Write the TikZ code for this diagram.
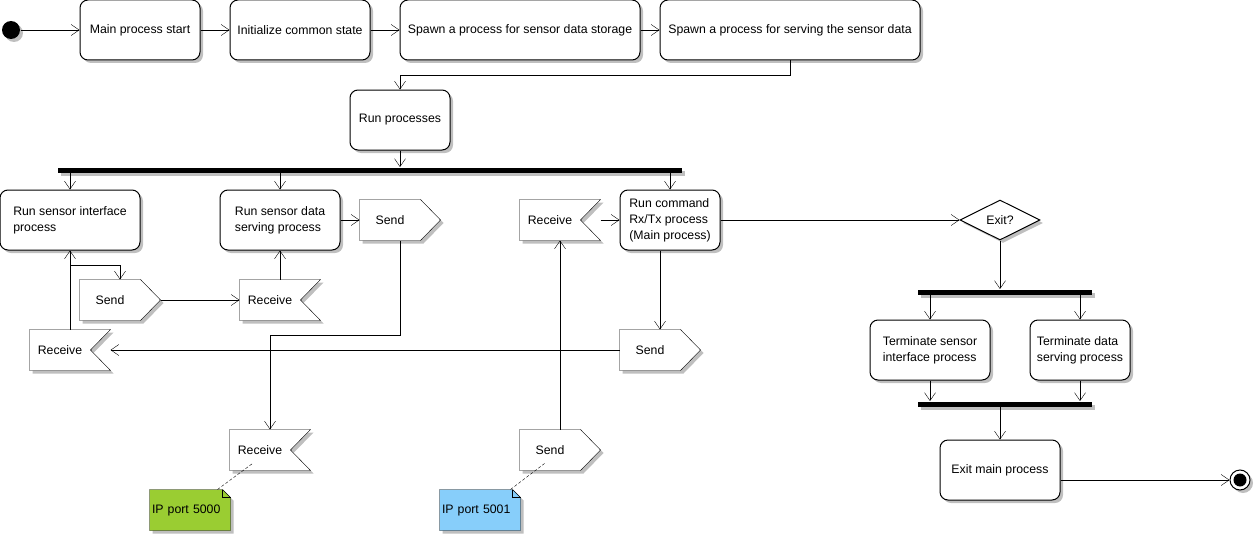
\documentclass[tikz,border=0pt]{standalone}
\usepackage{fontspec}
\setmainfont{Liberation Sans}
\usetikzlibrary{arrows.meta,shadows,shapes.geometric,calc}
\pgfdeclarelayer{background}
\pgfsetlayers{background,main}
\definecolor{notegreen}{HTML}{9ACD32}
\definecolor{noteblue}{HTML}{87CEFA}
\newcommand{\drawsendshape}[1]{\draw[sigline] (#1.north west) -- ([xshift=-20pt]#1.north east) -- (#1.east) -- ([xshift=-20pt]#1.south east) -- (#1.south west) -- cycle;}
\newcommand{\drawrecvshape}[1]{\draw[sigline] (#1.north west) -- (#1.north east) -- ([xshift=-20pt]#1.east) -- (#1.south east) -- (#1.south west) -- cycle;}
\newcommand{\drawnoteshape}[2]{\draw[fill=#2, shad] (#1.north west) -- ([xshift=-8pt]#1.north east) -- ([yshift=-8pt]#1.north east) -- (#1.south east) -- (#1.south west) -- cycle;
  \draw ([xshift=-8pt]#1.north east) |- ([yshift=-8pt]#1.north east);}
\begin{document}
\begin{tikzpicture}[x=1pt,y=-1pt, font=\fontsize{12.3pt}{16pt}\selectfont, line width=1pt,
 shad/.style={drop shadow={shadow xshift=3pt,shadow yshift=-3pt,fill=black!25,opacity=1}},
 proc/.style={draw, fill=white, rounded corners=8pt, shad, align=left, inner sep=0pt},
 sig/.style={minimum width=80pt, minimum height=40pt, inner sep=0pt, execute at end node={\hspace*{20pt}}},
 sigline/.style={draw, fill=white, shad, line join=miter},
 bar/.style={fill=black, minimum height=5pt, inner sep=0pt, shad},
 arr/.style={-{Straight Barb[length=8pt,width=11pt]}},
 note/.style={text width=76pt, inner xsep=2pt, inner ysep=0pt, minimum height=40pt, align=left}]
\useasboundingbox (0,0) rectangle (1255,535);

% top row
\node[circle, fill=black, minimum size=18pt, inner sep=0pt, shad] (start) at (11,30) {};
\node[proc, minimum width=120pt, minimum height=60pt] (main) at (140,30) {Main process start};
\node[proc, minimum width=140pt, minimum height=60pt] (init) at (300,30) {Initialize common state};
\node[proc, minimum width=240pt, minimum height=60pt] (sp1) at (520,30) {Spawn a process for sensor data storage};
\node[proc, minimum width=260pt, minimum height=60pt] (sp2) at (790,30) {Spawn a process for serving the sensor data};
\node[proc, minimum width=100pt, minimum height=60pt] (run) at (400,120) {Run processes};
\node[bar, minimum width=624pt] (bar1) at (370,170) {};

% processes
\node[proc, minimum width=140pt, minimum height=60pt] (si) at (70,220) {Run sensor interface\\process};
\node[proc, minimum width=120pt, minimum height=60pt] (ss) at (280,220) {Run sensor data\\serving process};
\node[proc, minimum width=100pt, minimum height=60pt] (cmd) at (670,220) {Run command\\Rx/Tx process\\(Main process)};

% signals
\node[sig] (sendA) at (400,220) {Send};
\node[sig] (sendB) at (120,300) {Send};
\node[sig] (recvB) at (280,300) {Receive};
\node[sig] (recvA) at (70,350) {Receive};
\node[sig] (recvC) at (560,220) {Receive};
\node[sig] (sendC) at (660,350) {Send};
\node[sig] (recvD) at (270,450) {Receive};
\node[sig] (sendD) at (560,450) {Send};

% notes
\node[note] (note1) at (190,510) {IP port 5000};
\node[note] (note2) at (480,510) {IP port 5001};

% right part
\node[diamond, draw, fill=white, shad, minimum width=80pt, minimum height=40pt, inner sep=0pt, aspect=2] (exitq) at (1000,220) {Exit?};
\node[bar, minimum width=174pt] (bar2) at (1005,292) {};
\node[proc, minimum width=120pt, minimum height=60pt] (ts) at (930,350) {Terminate sensor\\interface process};
\node[proc, minimum width=100pt, minimum height=60pt] (td) at (1080,350) {Terminate data\\serving process};
\node[bar, minimum width=174pt] (bar3) at (1005,404) {};
\node[proc, minimum width=120pt, minimum height=60pt] (exitm) at (1000,470) {Exit main process};
\node[circle, draw, fill=white, minimum size=20pt, inner sep=0pt, shad] (end) at (1240,480) {};
\fill (end.center) circle[radius=6.5pt];

\begin{pgfonlayer}{background}
\drawsendshape{sendA}
\drawsendshape{sendB}
\drawsendshape{sendC}
\drawsendshape{sendD}
\drawrecvshape{recvA}
\drawrecvshape{recvB}
\drawrecvshape{recvC}
\drawrecvshape{recvD}
\drawnoteshape{note1}{notegreen}
\drawnoteshape{note2}{noteblue}
\end{pgfonlayer}

% connectors
\draw[arr] (start) -- (main);
\draw[arr] (main) -- (init);
\draw[arr] (init) -- (sp1);
\draw[arr] (sp1) -- (sp2);
\draw[arr] (sp2.south) -- ++(0,15) -| (run.north);
\draw[arr] (run.south) -- (run.south |- bar1.north);
\draw[arr] (bar1.south -| si.north) -- (si.north);
\draw[arr] (bar1.south -| ss.north) -- (ss.north);
\draw[arr] (bar1.south -| cmd.north) -- (cmd.north);
\draw[arr] (recvA.north) -- (si.south);
\draw[arr] (si.south) -- ++(0,15) -| (sendB.north);
\draw[arr] (sendB.east) -- (recvB.west);
\draw[arr] (recvB.north) -- (ss.south);
\draw[arr] (ss.east) -- (sendA.west);
\draw[arr] (sendA.south) -- ++(0,95) -| (recvD.north);
\draw[arr] (sendC.west) -- (recvA.east);
\draw[arr] (sendC.north |- cmd.south) -- (sendC.north);
\draw[arr] (recvC.east) -- (cmd.west);
\draw[arr] (sendD.north) -- (recvC.south);
\draw[arr] (cmd.east) -- (exitq.west);
\draw[arr] (exitq.south) -- (exitq.south |- bar2.north);
\draw[arr] (bar2.south -| ts.north) -- (ts.north);
\draw[arr] (bar2.south -| td.north) -- (td.north);
\draw[arr] (ts.south) -- (ts.south |- bar3.north);
\draw[arr] (td.south) -- (td.south |- bar3.north);
\draw[arr] (bar3.south -| exitm.north) -- (exitm.north);
\draw[arr] (end -| exitm.east) -- (end.west);
\draw[dash pattern=on 3pt off 2pt] ([xshift=-13pt]note1.north east) -- ([xshift=23pt,yshift=7pt]recvD.south west);
\draw[dash pattern=on 3pt off 2pt] ([xshift=-10pt]note2.north east) -- ([xshift=25pt,yshift=7pt]sendD.south west);
\end{tikzpicture}
\end{document}
